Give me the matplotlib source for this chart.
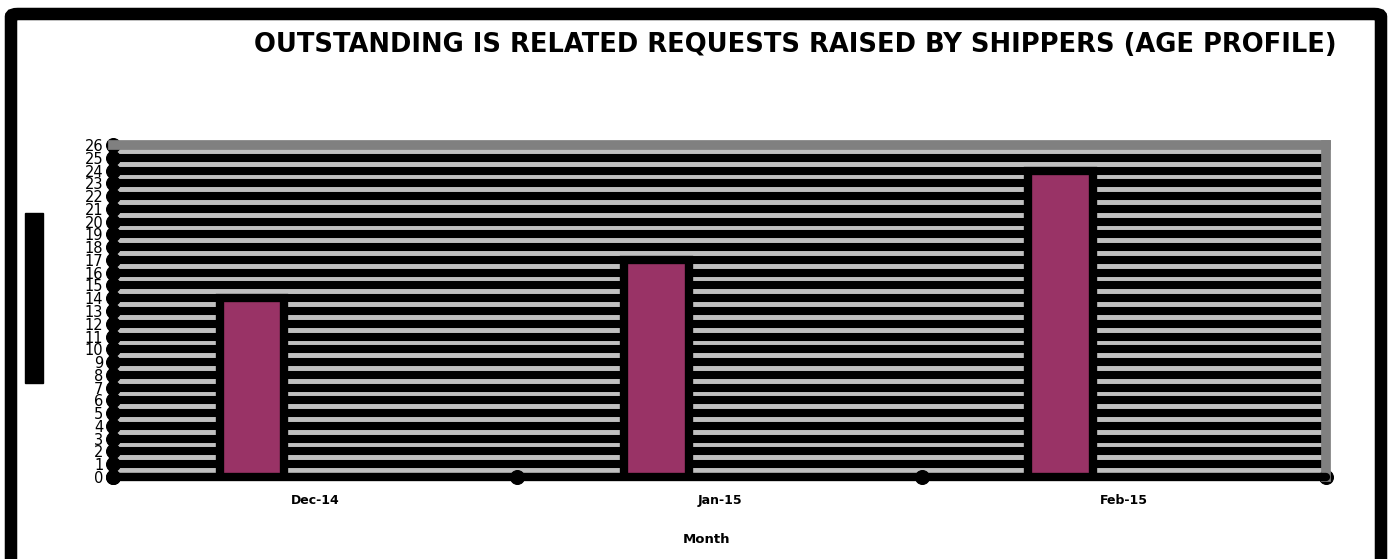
import matplotlib.pyplot as plt
from matplotlib.patches import FancyBboxPatch, Rectangle
import numpy as np

months = ["Dec-14", "Jan-15", "Feb-15"]
requests = [14, 17, 24]
y_ticks = list(range(0, 27))

fig = plt.figure(figsize=(13.92, 5.59), dpi=100)

# outer frame and the stray box on the left
fig.patches.append(FancyBboxPatch((11 / 1392, -0.05), 1370 / 1392, 1 - 14 / 559 + 0.05,
                                  boxstyle="round,pad=0,rounding_size=0.005",
                                  transform=fig.transFigure, fill=False,
                                  edgecolor="black", linewidth=9, zorder=0))
fig.patches.append(Rectangle((25 / 1392, 1 - 383 / 559), 18 / 1392, 170 / 559,
                             transform=fig.transFigure, color="black"))

ax = fig.add_axes([113 / 1392, 1 - 477 / 559, 1213 / 1392, 332 / 559])
ax.set_facecolor("#c0c0c0")

x = np.arange(len(months))
ax.bar(x - 0.156, requests, width=0.16, color="#993366",
       edgecolor="black", linewidth=6, zorder=3)

ax.set_xlim(-0.5, 2.5)
ax.set_ylim(0, 26)
ax.set_yticks(y_ticks)
ax.set_yticklabels([str(v) for v in y_ticks], fontsize=10.5)
ax.yaxis.grid(True, color="black", linewidth=5.8)
ax.set_axisbelow(True)

# category boundaries get the tick dots, labels sit in the middle
ax.set_xticks([-0.5, 0.5, 1.5, 2.5])
ax.set_xticklabels([])
ax.set_xticks(x, minor=True)
ax.set_xticklabels(months, minor=True, fontsize=9, fontweight="bold")
ax.tick_params(axis="x", which="minor", length=0, pad=12)
ax.tick_params(axis="x", which="major", length=0)
ax.tick_params(axis="y", length=0, pad=7)
for t in ax.xaxis.get_major_ticks() + ax.yaxis.get_major_ticks():
    t.tick1line.set_marker("o")
    t.tick1line.set_markersize(10)
    t.tick1line.set_color("black")

ax.spines["left"].set_linewidth(6)
ax.spines["bottom"].set_linewidth(6)
ax.spines["left"].set_capstyle("round")
ax.spines["bottom"].set_capstyle("round")
ax.spines["top"].set_color("#808080")
ax.spines["right"].set_color("#808080")
ax.spines["top"].set_linewidth(7)
ax.spines["right"].set_linewidth(7)

ax.set_xlabel("Month", fontsize=9.5, fontweight="bold")
ax.xaxis.set_label_coords((706 - 113) / 1213, -(533 - 477) / 332)

fig.text(795 / 1392, 1 - 45 / 559, "OUTSTANDING IS RELATED REQUESTS RAISED BY SHIPPERS (AGE PROFILE)",
         ha="center", va="center", fontsize=18.5, fontweight="bold")

fig.savefig("out.png", dpi=100)
